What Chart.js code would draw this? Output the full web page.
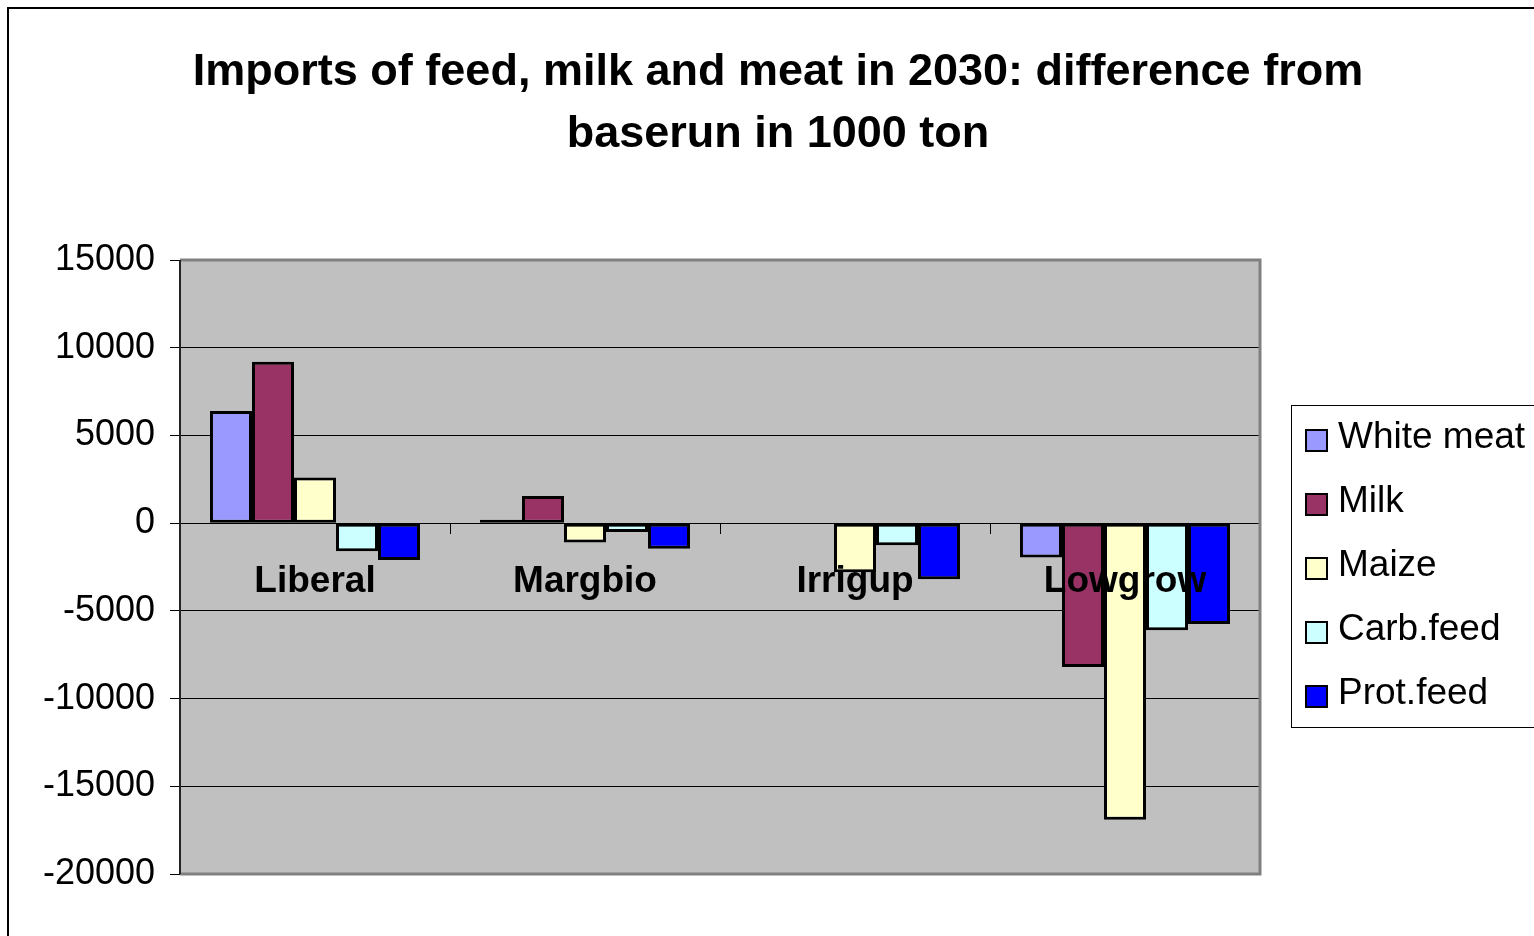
<!DOCTYPE html>
<html>
<head>
<meta charset="utf-8">
<script src="https://cdn.jsdelivr.net/npm/chart.js@4/dist/chart.umd.min.js"></script>
<style>
  html, body { margin: 0; padding: 0; background: #fff; overflow: hidden; width: 1534px; height: 936px; }
  #frame { position: absolute; left: 7px; top: 7px; width: 1538px; height: 960px; border: 2px solid #000; background: #fff; }
  #wrap { position: relative; width: 1538px; height: 960px; }
</style>
</head>
<body>
<div id="frame"><div id="wrap"><canvas id="chart"></canvas></div></div>
<script>
// Scenarios and import differences (1000 ton) relative to the baserun
const categories = ['Liberal', 'Margbio', 'Irrigup', 'Lowgrow'];
const seriesNames = ['White meat', 'Milk', 'Maize', 'Carb.feed', 'Prot.feed'];
const whiteMeat = [6400, 200, 0, -1950];
const milk      = [9200, 1550, 0, -8200];
const maize     = [2600, -1100, -2800, -16900];
const carbFeed  = [-1600, -500, -1250, -6100];
const protFeed  = [-2100, -1450, -3200, -5750];
const yTicks    = [15000, 10000, 5000, 0, -5000, -10000, -15000, -20000];

const seriesValues = [whiteMeat, milk, maize, carbFeed, protFeed];
const seriesColors = ['#9999FF', '#993366', '#FFFFCC', '#CCFFFF', '#0000FF'];

const FONT = '"Liberation Sans", Arial, sans-serif';

// grey plot background
const plotBackground = {
  id: 'plotBackground',
  beforeDraw(chart) {
    const { ctx, chartArea: a } = chart;
    ctx.save();
    ctx.fillStyle = '#C0C0C0';
    ctx.fillRect(a.left, a.top, a.right - a.left, a.bottom - a.top);
    ctx.restore();
  }
};

// grey frame on the top, right and bottom of the plot area, dark value axis line
const plotFrame = {
  id: 'plotFrame',
  afterDraw(chart) {
    const { ctx, chartArea: a } = chart;
    ctx.save();
    ctx.strokeStyle = '#808080';
    ctx.lineWidth = 3;
    ctx.beginPath();
    ctx.moveTo(a.left, a.top);
    ctx.lineTo(a.right, a.top);
    ctx.lineTo(a.right, a.bottom);
    ctx.lineTo(a.left, a.bottom);
    ctx.stroke();
    ctx.strokeStyle = '#222';
    ctx.lineWidth = 2;
    ctx.beginPath();
    ctx.moveTo(a.left, a.top);
    ctx.lineTo(a.left, a.bottom);
    ctx.stroke();
    ctx.restore();
  }
};

// boxed legend to the right of the plot
const boxLegend = {
  id: 'boxLegend',
  afterDraw(chart) {
    const { ctx } = chart;
    const left = 1282, top = 396, bottom = 718, right = 1545;
    ctx.save();
    ctx.fillStyle = '#fff';
    ctx.fillRect(left, top, right - left, bottom - top);
    ctx.strokeStyle = '#000';
    ctx.lineWidth = 1;
    ctx.strokeRect(left + 0.5, top + 0.5, right - left, bottom - top);
    ctx.font = '37px ' + FONT;
    ctx.textBaseline = 'alphabetic';
    ctx.textAlign = 'left';
    chart.data.datasets.forEach((ds, i) => {
      const base = 439 + i * 64;
      const sq = 421 + i * 64;
      ctx.fillStyle = ds.backgroundColor;
      ctx.fillRect(1297, sq, 21, 21);
      ctx.strokeStyle = '#000';
      ctx.lineWidth = 2;
      ctx.strokeRect(1297, sq, 21, 21);
      ctx.fillStyle = '#000';
      ctx.fillText(ds.label, 1329, base);
    });
    ctx.restore();
  }
};

const datasets = seriesNames.map((name, i) => ({
  label: name,
  data: seriesValues[i],
  backgroundColor: seriesColors[i],
  borderColor: '#000',
  borderWidth: 3,
  borderSkipped: false,
  categoryPercentage: 0.778,
  barPercentage: 1.0
}));

new Chart(document.getElementById('chart'), {
  type: 'bar',
  data: { labels: categories, datasets },
  plugins: [plotBackground, plotFrame, boxLegend],
  options: {
    responsive: true,
    maintainAspectRatio: false,
    animation: false,
    layout: { padding: { left: 0, right: 0, top: 0, bottom: 95 } },
    plugins: {
      legend: { display: false },
      tooltip: { enabled: false },
      title: {
        display: true,
        text: ['Imports of feed, milk and meat in 2030: difference from', 'baserun in 1000 ton'],
        color: '#000',
        font: { family: FONT, size: 45, weight: 'bold', lineHeight: 1.39 },
        padding: { top: 32, bottom: 94 }
      }
    },
    scales: {
      x: {
        position: { y: 0 },
        grid: {
          display: true,
          drawOnChartArea: false,
          drawTicks: true,
          tickLength: 10,
          color: '#000',
          lineWidth: 1,
          offset: true
        },
        border: { display: true, color: '#000', width: 1 },
        ticks: {
          z: 1,
          color: '#000',
          padding: 26,
          font: { family: FONT, size: 37, weight: 'bold' },
          maxRotation: 0,
          autoSkip: false
        }
      },
      y: {
        min: yTicks[yTicks.length - 1],
        max: yTicks[0],
        afterBuildTicks(scale) { scale.ticks = yTicks.map(v => ({ value: v })); },
        afterFit(scale) { scale.width = 171; },
        grid: { color: '#000', lineWidth: 1, tickLength: 10, drawTicks: true },
        border: { display: false },
        ticks: {
          color: '#000',
          padding: 15,
          font: { family: FONT, size: 36 },
          callback: v => String(v)
        }
      },
      // empty right-hand axis that keeps room for the legend box
      yRight: {
        position: 'right',
        min: yTicks[yTicks.length - 1],
        max: yTicks[0],
        afterFit(scale) { scale.width = 287; },
        grid: { drawOnChartArea: false, drawTicks: false },
        border: { display: false },
        ticks: { display: false }
      }
    }
  }
});
</script>
</body>
</html>
